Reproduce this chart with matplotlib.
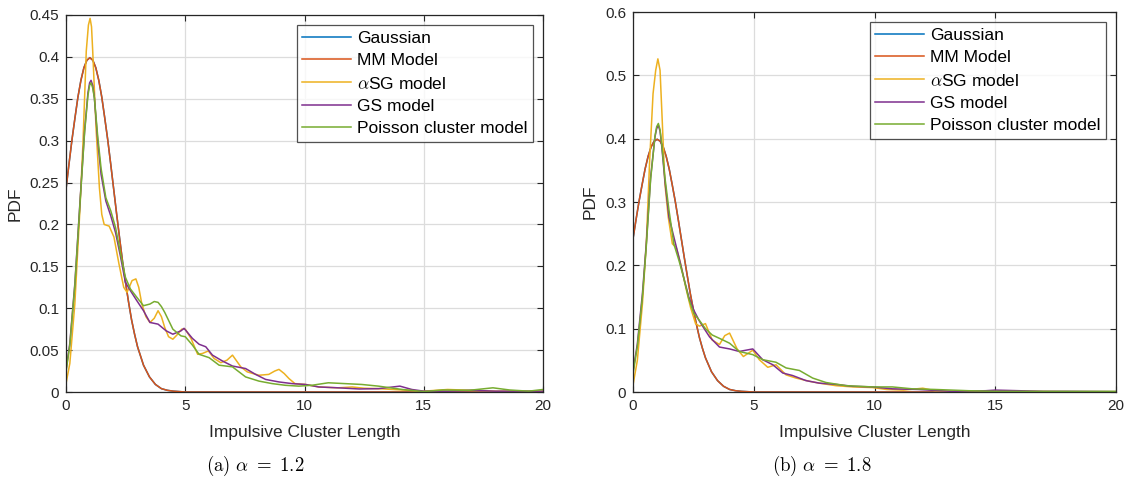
import matplotlib
matplotlib.use('Agg')
import matplotlib.pyplot as plt

# Data
gauss_x = [0, 0.125, 0.25, 0.375, 0.5, 0.625, 0.75, 0.875, 1.0, 1.125, 1.25, 1.375, 1.5,
           1.625, 1.75, 1.875, 2.0, 2.125, 2.25, 2.375, 2.5, 2.625, 2.75, 2.875, 3.0,
           3.25, 3.5, 3.75, 4.0, 4.25, 4.5, 5.0, 20.0]
gauss_y = [0.242, 0.272, 0.301, 0.327, 0.352, 0.372, 0.387, 0.396, 0.399, 0.396, 0.387,
           0.372, 0.352, 0.327, 0.301, 0.272, 0.242, 0.212, 0.183, 0.155, 0.130, 0.107,
           0.086, 0.069, 0.054, 0.032, 0.018, 0.009, 0.004, 0.002, 0.001, 0.0, 0.0]
mm_y = [0.242, 0.272, 0.301, 0.327, 0.352, 0.372, 0.387, 0.396, 0.399, 0.396, 0.387,
        0.372, 0.352, 0.327, 0.301, 0.272, 0.242, 0.212, 0.183, 0.155, 0.130, 0.107,
        0.086, 0.069, 0.054, 0.032, 0.018, 0.009, 0.004, 0.002, 0.001, 0.0, 0.0]

# (a) alpha = 1.2
a12_sg_x = [0, 0.16, 0.37, 0.58, 0.71, 0.85, 0.94, 1.01, 1.07, 1.12, 1.26, 1.40, 1.50,
            1.60, 1.81, 2.01, 2.22, 2.42, 2.56, 2.77, 2.93, 3.05, 3.18, 3.35, 3.52, 3.70,
            3.86, 4.00, 4.14, 4.30, 4.48, 4.65, 4.85, 5.0, 5.24, 5.52, 5.72, 5.97, 6.21,
            6.49, 6.75, 6.98, 7.33, 7.6, 8.09, 8.5, 8.75, 8.93, 9.15, 9.35, 9.6, 10.04,
            10.6, 11.4, 12.0, 12.5, 13.1, 14.1, 15.0, 16.0, 17.0, 18.0, 19.0, 20.0]
a12_sg_y = [0.010, 0.034, 0.105, 0.216, 0.296, 0.407, 0.438, 0.446, 0.436, 0.407, 0.315,
            0.244, 0.212, 0.200, 0.198, 0.185, 0.153, 0.125, 0.119, 0.133, 0.135, 0.125,
            0.105, 0.090, 0.083, 0.088, 0.097, 0.090, 0.077, 0.066, 0.063, 0.068, 0.075,
            0.075, 0.064, 0.045, 0.046, 0.049, 0.040, 0.035, 0.038, 0.044, 0.030, 0.024,
            0.020, 0.021, 0.025, 0.027, 0.022, 0.016, 0.010, 0.009, 0.006, 0.005, 0.006,
            0.0045, 0.004, 0.0024, 0.001, 0.003, 0.002, 0.001, 0.001, 0.001]

a12_gs_x = [0, 0.16, 0.37, 0.58, 0.78, 0.92, 0.99, 1.05, 1.12, 1.19, 1.33, 1.47, 1.67,
            1.88, 2.08, 2.29, 2.49, 2.70, 2.97, 3.25, 3.52, 3.86, 4.2, 4.48, 4.82, 4.95,
            5.3, 5.58, 5.86, 6.14, 6.56, 6.98, 7.53, 7.95, 8.37, 8.93, 9.48, 10.04, 10.6,
            11.4, 12.3, 13.1, 14.0, 14.5, 15.0, 16.0, 17.0, 18.0, 19.0, 20.0]
a12_gs_y = [0.026, 0.058, 0.129, 0.224, 0.312, 0.357, 0.369, 0.372, 0.366, 0.351, 0.300,
            0.260, 0.228, 0.210, 0.190, 0.161, 0.131, 0.121, 0.109, 0.097, 0.083, 0.081,
            0.073, 0.069, 0.073, 0.076, 0.064, 0.057, 0.054, 0.044, 0.037, 0.031, 0.028,
            0.021, 0.015, 0.012, 0.010, 0.009, 0.006, 0.005, 0.0036, 0.004, 0.007, 0.003,
            0.001, 0.001, 0.002, 0.001, 0.001, 0.001]

a12_pc_x = [0, 0.16, 0.37, 0.58, 0.78, 0.92, 0.99, 1.05, 1.12, 1.19, 1.33, 1.47, 1.67,
            1.88, 2.08, 2.29, 2.49, 2.70, 2.97, 3.25, 3.52, 3.70, 3.86, 4.00, 4.14, 4.48,
            4.82, 5.0, 5.3, 5.58, 6.0, 6.42, 6.98, 7.53, 8.09, 8.65, 9.2, 9.76, 10.3, 11.0,
            11.7, 12.4, 13.1, 14.1, 15.0, 15.8, 16.9, 17.9, 18.6, 19.4, 20.0]
a12_pc_y = [0.024, 0.056, 0.127, 0.222, 0.310, 0.354, 0.366, 0.369, 0.363, 0.351, 0.305,
            0.267, 0.232, 0.216, 0.196, 0.165, 0.137, 0.123, 0.113, 0.103, 0.105, 0.108,
            0.107, 0.102, 0.095, 0.075, 0.067, 0.066, 0.056, 0.045, 0.041, 0.032, 0.030,
            0.018, 0.013, 0.010, 0.008, 0.007, 0.008, 0.011, 0.010, 0.009, 0.007, 0.003,
            0.0005, 0.0024, 0.002, 0.005, 0.0024, 0.001, 0.003]

# (b) alpha = 1.8
a18_sg_x = [0, 0.18, 0.39, 0.55, 0.69, 0.83, 0.94, 1.03, 1.12, 1.21, 1.32, 1.46, 1.63,
            1.79, 1.97, 2.18, 2.38, 2.59, 2.75, 3.0, 3.28, 3.58, 3.8, 4.0, 4.31, 4.57,
            4.96, 5.23, 5.58, 5.92, 6.34, 6.75, 7.3, 7.71, 8.4, 9.1, 9.92, 10.5, 11.2,
            12.0, 12.5, 13.2, 14.0, 15.0, 16.0, 18.0, 20.0]
a18_sg_y = [0.011, 0.050, 0.139, 0.234, 0.366, 0.471, 0.508, 0.526, 0.508, 0.429, 0.329,
            0.276, 0.234, 0.228, 0.203, 0.166, 0.134, 0.108, 0.104, 0.108, 0.082, 0.075,
            0.089, 0.093, 0.068, 0.056, 0.066, 0.051, 0.039, 0.043, 0.027, 0.022, 0.017,
            0.014, 0.010, 0.008, 0.007, 0.004, 0.003, 0.006, 0.002, 0.001, 0.001, 0.001,
            0.001, 0.0005, 0.0005]

a18_gs_x = [0, 0.18, 0.39, 0.55, 0.73, 0.91, 0.98, 1.05, 1.12, 1.18, 1.32, 1.49, 1.69,
            1.9, 2.11, 2.31, 2.52, 2.75, 3.0, 3.17, 3.58, 4.0, 4.4, 4.96, 5.37, 5.79, 6.2,
            6.61, 7.16, 7.71, 8.4, 9.1, 9.92, 10.74, 11.8, 13.2, 14.6, 15.0, 16.0, 17.0,
            18.0, 20.0]
a18_gs_y = [0.032, 0.076, 0.155, 0.234, 0.339, 0.403, 0.416, 0.421, 0.412, 0.392, 0.334,
            0.276, 0.245, 0.213, 0.179, 0.150, 0.129, 0.112, 0.097, 0.087, 0.071, 0.068,
            0.064, 0.068, 0.051, 0.043, 0.030, 0.026, 0.018, 0.014, 0.012, 0.009, 0.008,
            0.005, 0.004, 0.001, 0.002, 0.003, 0.002, 0.001, 0.001, 0.0005]

a18_pc_x = [0, 0.18, 0.39, 0.55, 0.73, 0.91, 0.98, 1.05, 1.12, 1.18, 1.32, 1.49, 1.69,
            1.9, 2.11, 2.31, 2.52, 2.75, 3.0, 3.28, 3.62, 4.0, 4.4, 4.96, 5.37, 5.92, 6.34,
            6.89, 7.44, 7.99, 8.82, 9.92, 10.74, 11.57, 12.5, 13.9, 15.0, 16.5, 18.0, 20.0]
a18_pc_y = [0.029, 0.072, 0.150, 0.230, 0.336, 0.404, 0.419, 0.424, 0.414, 0.395, 0.339,
            0.287, 0.234, 0.208, 0.179, 0.147, 0.124, 0.113, 0.100, 0.090, 0.084, 0.077,
            0.064, 0.059, 0.051, 0.047, 0.038, 0.034, 0.022, 0.015, 0.010, 0.008, 0.008,
            0.005, 0.004, 0.002, 0.001, 0.001, 0.001, 0.001]

labels = ['Gaussian', 'MM Model', r'$\alpha$SG model', 'GS model', 'Poisson cluster model']
colors = ['#0072BD', '#D95319', '#EDB120', '#7E2F8E', '#77AC30']

plt.rcParams['font.family'] = ['Liberation Sans', 'DejaVu Sans']
plt.rcParams['mathtext.fontset'] = 'cm'

fig = plt.figure(figsize=(11.29, 4.83), dpi=100)
ax1 = fig.add_axes([66 / 1129, 1 - 392 / 483, 477 / 1129, 377 / 483])
ax2 = fig.add_axes([633 / 1129, 1 - 392 / 483, 483 / 1129, 380 / 483])

panels = [
    (ax1, [(gauss_x, gauss_y), (gauss_x, mm_y), (a12_sg_x, a12_sg_y),
           (a12_gs_x, a12_gs_y), (a12_pc_x, a12_pc_y)],
     0.45, [0, 0.05, 0.1, 0.15, 0.2, 0.25, 0.3, 0.35, 0.4, 0.45],
     ['0', '0.05', '0.1', '0.15', '0.2', '0.25', '0.3', '0.35', '0.4', '0.45'],
     r'$\mathrm{(a)}\ \alpha\ =\ 1.2$', 255),
    (ax2, [(gauss_x, gauss_y), (gauss_x, mm_y), (a18_sg_x, a18_sg_y),
           (a18_gs_x, a18_gs_y), (a18_pc_x, a18_pc_y)],
     0.6, [0, 0.1, 0.2, 0.3, 0.4, 0.5, 0.6],
     ['0', '0.1', '0.2', '0.3', '0.4', '0.5', '0.6'],
     r'$\mathrm{(b)}\ \alpha\ =\ 1.8$', 822),
]

for ax, series, ymax, yticks, yticklabels, caption, cap_x in panels:
    for (xs, ys), lab, col in zip(series, labels, colors):
        ax.plot(xs, ys, color=col, lw=1.1, label=lab)
    ax.set_xlim(0, 20)
    ax.set_ylim(0, ymax)
    ax.set_xticks([0, 5, 10, 15, 20])
    ax.set_yticks(yticks)
    ax.set_yticklabels(yticklabels)
    ax.grid(True, color='#dcdcdc', lw=0.9)
    ax.set_axisbelow(True)
    ax.tick_params(direction='in', top=True, right=True, labelsize=11,
                   colors='#262626', length=4, pad=5)
    for sp in ax.spines.values():
        sp.set_color('#262626')
        sp.set_linewidth(0.9)
    ax.set_xlabel('Impulsive Cluster Length', fontsize=12.5, color='#262626', labelpad=9)
    ax.set_ylabel('PDF', fontsize=12.5, color='#262626', labelpad=5)
    leg = ax.legend(loc='upper right', fontsize=12.5, frameon=True, fancybox=False,
                    edgecolor='#262626', borderaxespad=0.6, handlelength=2.8,
                    labelspacing=0.42, borderpad=0.3, handletextpad=0.35)
    leg.get_frame().set_linewidth(0.9)
    fig.text(cap_x / 1129, 1 - 466 / 483, caption, ha='center', va='center',
             fontsize=13.5)

fig.savefig('out.png', dpi=100)
